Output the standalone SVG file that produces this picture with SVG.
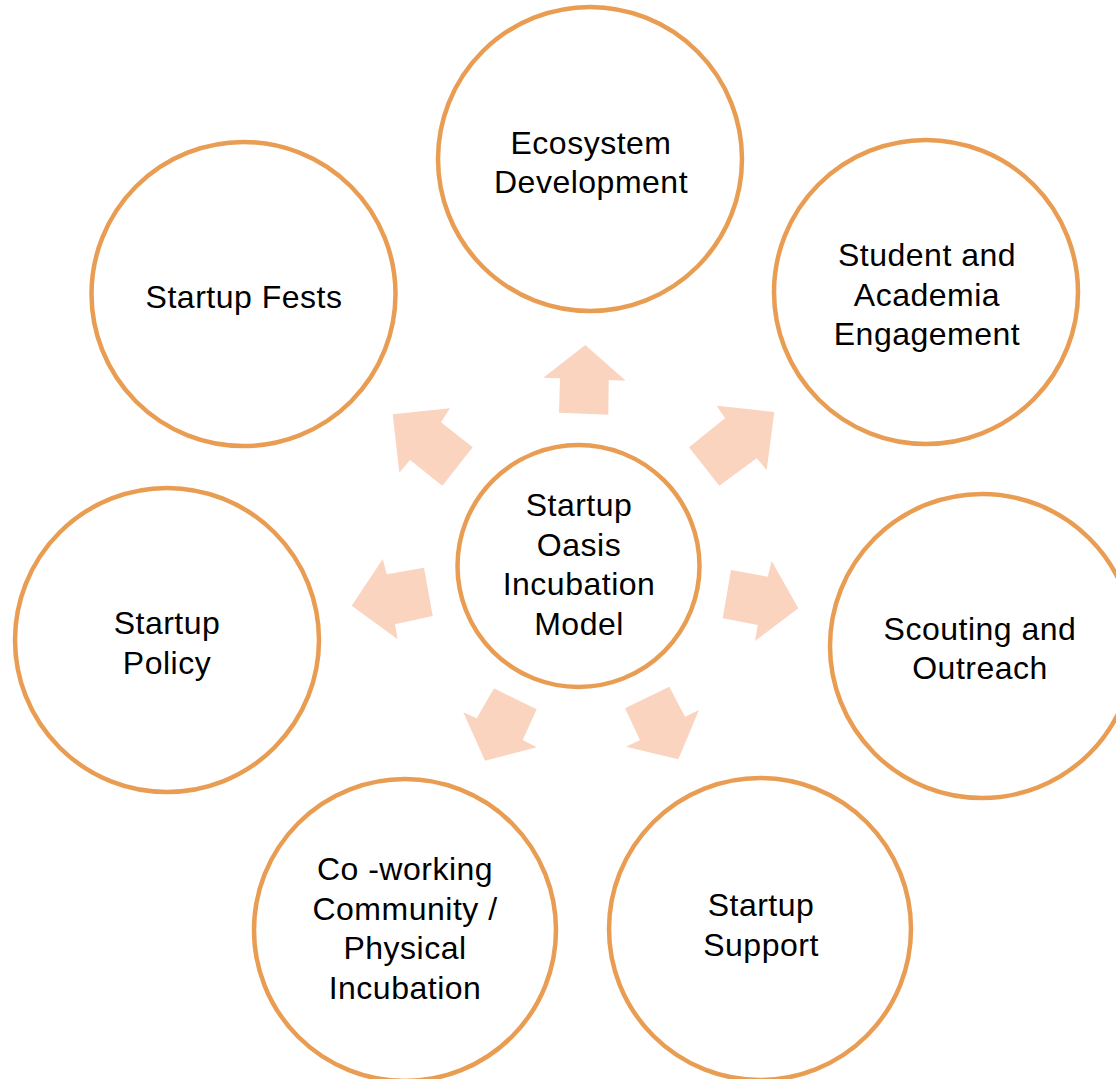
<svg xmlns="http://www.w3.org/2000/svg" width="1116" height="1079" viewBox="0 0 1116 1079">
<style>
.c{fill:#fff;stroke:#E99D53;stroke-width:4.5}
.a{fill:#FBD4C0}
text{font-family:"Liberation Sans",Arial,sans-serif;font-size:32px;letter-spacing:0.5px;fill:#000;text-anchor:middle}
</style>
<rect width="1116" height="1079" fill="#fff"/>
<g id="connectors">
<polygon class="a" points="585.3,345 625.7,380.7 608.7,380 608.3,414.7 559,412.7 560,378.3 543.3,377.7"/>
<polygon class="a" points="392.7,414.3 450,408.3 441,422.3 472.7,447.3 442.3,485.7 410,460 399.3,472.7"/>
<polygon class="a" points="774.3,412 766.7,470 756.7,458.3 719.3,485.7 689,447.3 725,418.3 716.7,405.7"/>
<polygon class="a" points="351.7,605.7 382.7,559 386.7,574.3 424,567.7 432.7,616 395,624.3 397.7,639.3"/>
<polygon class="a" points="798.3,608.3 755,641 757.7,625 722.7,618.3 731,570 767.7,576.7 771.7,561"/>
<polygon class="a" points="485,760.7 463.3,712.3 476.7,718.3 494,688.3 536.7,709.3 522.7,740 536.7,747.3"/>
<polygon class="a" points="678.3,759.3 626,746.7 640,740 625,708.3 669.3,686.7 685,716.7 699,710"/>
</g>
<g id="center">
<circle class="c" cx="578.5" cy="566" r="121"/>
<text x="579" y="516">Startup</text>
<text x="579" y="556">Oasis</text>
<text x="579" y="595">Incubation</text>
<text x="579" y="635">Model</text>
</g>
<g id="ecosystem">
<circle class="c" cx="590" cy="159" r="152"/>
<text x="591" y="154">Ecosystem</text>
<text x="591" y="193">Development</text>
</g>
<g id="student">
<circle class="c" cx="926" cy="292" r="152"/>
<text x="927" y="266">Student and</text>
<text x="927" y="306">Academia</text>
<text x="927" y="345">Engagement</text>
</g>
<g id="fests">
<circle class="c" cx="243.5" cy="294" r="152"/>
<text x="244" y="308">Startup Fests</text>
</g>
<g id="policy">
<circle class="c" cx="167" cy="640" r="152"/>
<text x="167" y="634">Startup</text>
<text x="167" y="674">Policy</text>
</g>
<g id="scouting">
<circle class="c" cx="982" cy="646" r="152"/>
<text x="980" y="640">Scouting and</text>
<text x="980" y="679">Outreach</text>
</g>
<g id="coworking">
<circle class="c" cx="405" cy="930" r="151"/>
<text x="405" y="880">Co -working</text>
<text x="405" y="920">Community /</text>
<text x="405" y="959">Physical</text>
<text x="405" y="999">Incubation</text>
</g>
<g id="support">
<circle class="c" cx="760" cy="929" r="151"/>
<text x="761" y="916">Startup</text>
<text x="761" y="956">Support</text>
</g>
</svg>
